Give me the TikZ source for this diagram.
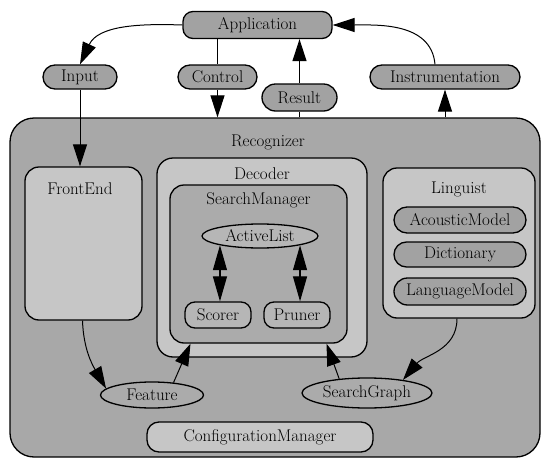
\documentclass[tikz,border=0pt]{standalone}
\usepackage{fontspec}
\usetikzlibrary{arrows.meta,shapes.geometric,shapes.misc}
\definecolor{gdark}{HTML}{A2A2A2}
\definecolor{gmid}{HTML}{ABABAB}
\definecolor{glight}{HTML}{C6C6C6}
\definecolor{grec}{HTML}{A8A8A8}
\definecolor{gsub}{HTML}{B6B6B6}
\begin{document}
\begin{tikzpicture}[x=1pt,y=-1pt,
  font=\rmfamily\fontsize{17}{20}\selectfont,
  box/.style={draw=black, line width=1.3pt, inner sep=0pt, text=black},
  rbox/.style={box, rectangle, rounded corners=#1},
  pill/.style={box, rounded rectangle},
  oval/.style={box, ellipse},
  lbl/.style={inner sep=0pt, text=black},
  arr/.style={line width=1pt, -{Triangle[length=22pt,width=14pt]}},
  darr/.style={line width=1.2pt, {Triangle[length=25pt,width=14pt]}-{Triangle[length=25pt,width=14pt]}},
  plain/.style={line width=1pt}
]
\useasboundingbox (0,0) rectangle (542,461);
\fill[white] (0,0) rectangle (542,461);

% outer recognizer
\node[rbox=24pt, fill=grec, minimum width=530pt, minimum height=339pt] (rec) at (275,287.5) {};
\node[lbl] (reclbl) at (268,142) {Recognizer};

% top
\node[rbox=10pt, fill=gdark, minimum width=149pt, minimum height=27pt] (app) at (257.5,25) {Application};
\node[pill, fill=gdark, minimum width=74pt, minimum height=24pt] (input) at (80,77) {Input};
\node[pill, fill=gdark, minimum width=79pt, minimum height=24pt] (control) at (217.5,77) {Control};
\node[pill, fill=gdark, minimum width=75pt, minimum height=27pt] (result) at (299.5,97.5) {Result};
\node[pill, fill=gdark, minimum width=150pt, minimum height=24pt] (instr) at (445,77) {Instrumentation};

% FrontEnd
\node[rbox=14pt, fill=glight, minimum width=117pt, minimum height=153pt] (fe) at (83.5,243.5) {};
\node[lbl] (felbl) at (80,189) {FrontEnd};

% Decoder
\node[rbox=16pt, fill=glight, minimum width=210pt, minimum height=199pt] (dec) at (262,257.5) {};
\node[lbl] (declbl) at (262,174) {Decoder};
\node[rbox=14pt, fill=gmid, minimum width=177pt, minimum height=158pt] (sm) at (258.5,264) {};
\node[lbl] (smlbl) at (258.5,200) {SearchManager};
\node[oval, fill=gsub, minimum width=116pt, minimum height=24pt] (al) at (260,236) {ActiveList};
\node[rbox=10pt, fill=gsub, minimum width=66pt, minimum height=26pt] (scorer) at (218,315) {Scorer};
\node[rbox=10pt, fill=gsub, minimum width=66pt, minimum height=26pt] (pruner) at (297,315) {Pruner};

% Linguist
\node[rbox=14pt, fill=glight, minimum width=152pt, minimum height=150pt] (ling) at (459,243) {};
\node[lbl] (linglbl) at (459,189) {Linguist};
\node[pill, fill=gdark, minimum width=132pt, minimum height=26pt] (am) at (460,220) {AcousticModel};
\node[pill, fill=gdark, minimum width=132pt, minimum height=25pt] (dict) at (460,254.5) {Dictionary};
\node[pill, fill=gdark, minimum width=132pt, minimum height=27pt] (lm) at (460,291.5) {LanguageModel};

% bottom
\node[oval, fill=gmid, minimum width=103pt, minimum height=26pt] (feat) at (152,395) {Feature};
\node[oval, fill=gmid, minimum width=130pt, minimum height=30pt] (sg) at (367,393) {SearchGraph};
\node[rbox=12pt, fill=glight, minimum width=226pt, minimum height=30pt] (cm) at (260,437) {ConfigurationManager};

% connectors
\draw[arr] (app.west) to[out=178,in=65] (input.north);
\draw[plain] ([xshift=-40pt]app.south) -- (control.north);
\draw[arr] (control.south) -- (control.south |- rec.north);
\draw[plain] (rec.north -| result.south) -- (result.south);
\draw[arr] (result.north) -- (result.north |- app.south);
\draw[arr] (rec.north -| instr.south) -- (instr.south);
\draw[arr] ([xshift=-10pt]instr.north) to[out=95,in=0] (app.east);
\draw[arr] (input.south) -- (input.south |- fe.north);

\draw[darr] (al.193) -- (al.193 |- scorer.north);
\draw[darr] (al.347) -- (al.347 |- pruner.north);

\draw[arr] ([xshift=-1pt]fe.south) to[out=-88,in=120] (feat.172);
\draw[arr] (feat.30) -- ([xshift=-68pt]sm.south);
\draw[arr] (sg.153) -- ([xshift=68pt]sm.south);
\draw[arr] ([xshift=-2pt]ling.south) to[out=-90,in=50] (sg.20);
\end{tikzpicture}
\end{document}
